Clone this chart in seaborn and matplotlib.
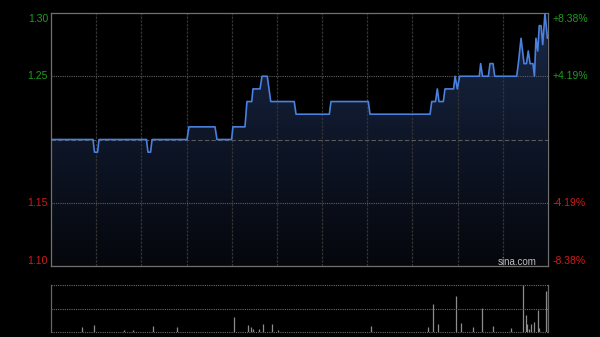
import numpy as np
import pandas as pd
import matplotlib
matplotlib.use("Agg")
import matplotlib.pyplot as plt
import seaborn as sns
from matplotlib.colors import LinearSegmentedColormap

# ---- data (minutes since 09:30, HK session: 330 trading minutes) ----
minutes = [0, 27.9, 28.9, 30.9, 31.9, 63.4, 64.4, 66.1, 67.1, 90.3, 91.6,
           108.9, 110.2, 119.9, 120.8, 128.8, 130.1, 133.3, 134.1, 138.8, 140.1,
           143.6, 145.9, 161.5, 162.7, 184.8, 185.9, 210.7, 211.8, 251.7, 252.8,
           255.3, 256.5, 257.6, 260.5, 261.6, 267.3, 268.3, 269.8, 271.3, 284.4,
           285.3, 286.5, 290.4, 291.5, 293.5, 294.6, 309.2, 310.3, 312.1, 314.1,
           315.7, 316.9, 318.1, 320.0, 321.0, 322.0, 323.2, 324.2, 325.4, 326.5,
           328.0, 329.6]
prices = [1.20, 1.20, 1.19, 1.19, 1.20, 1.20, 1.19, 1.19, 1.20, 1.20, 1.21,
          1.21, 1.20, 1.20, 1.21, 1.21, 1.23, 1.23, 1.24, 1.24, 1.25,
          1.25, 1.23, 1.23, 1.22, 1.22, 1.23, 1.23, 1.22, 1.22, 1.23,
          1.23, 1.24, 1.23, 1.23, 1.24, 1.24, 1.25, 1.24, 1.25, 1.25,
          1.26, 1.25, 1.25, 1.26, 1.26, 1.25, 1.25, 1.26, 1.28, 1.26,
          1.26, 1.27, 1.26, 1.26, 1.25, 1.28, 1.27, 1.29, 1.29, 1.275,
          1.30, 1.28]

vol_minutes = [20.4, 28.8, 48.5, 54.6, 67.9, 83.5, 121.5, 131.0, 132.8, 134.3,
               138.3, 140.6, 146.5, 150.9, 212.3, 250.1, 253.4, 257.2, 268.7,
               272.0, 280.0, 286.0, 293.3, 305.2, 313.2, 315.2, 315.9, 317.6,
               318.7, 320.7, 323.6, 324.2, 329.0, 330.0]
volumes = [10, 14, 4, 4, 12, 10, 32, 14, 10, 6,
           7, 16, 18, 4, 13, 10, 60, 16, 76,
           20, 11, 51, 12, 9, 100, 37, 18, 6,
           16, 21, 46, 9, 88, 88]

prev_close = 1.20
left_ticks = [1.30, 1.25, 1.15, 1.10]
left_labels = ["1.30", "1.25", "1.15", "1.10"]
right_labels = ["+8.38%", "+4.19%", "-4.19%", "-8.38%"]
up_color = "#1c9e1c"
down_color = "#d01c1c"

sns.set_theme(style="dark")
plt.rcParams['font.family'] = ['Liberation Sans', 'DejaVu Sans']

fig = plt.figure(figsize=(6, 3.37), dpi=100, facecolor='black')
ax = fig.add_axes([51/600, 1-266/337, 497/600, 253/337])
axv = fig.add_axes([51/600, 1-332/337, 497/600, 47/337])
for a in (ax, axv):
    a.set_facecolor('black')
    a.grid(False)
    a.set_xticks([])
    a.set_yticks([])
    a.set_xlabel('')
    a.set_ylabel('')

df = pd.DataFrame({'minute': minutes, 'price': prices})

# gradient area under the line
poly = ax.fill_between(df['minute'], df['price'], 1.10, color='none', lw=0)
grad = np.linspace(0, 1, 256).reshape(-1, 1)
cmap = LinearSegmentedColormap.from_list('g', ['#05070c', '#0e1628', '#1a2948'])
im = ax.imshow(grad, extent=(0, 330, 1.10, 1.30), aspect='auto', cmap=cmap,
               origin='lower', zorder=1)
im.set_clip_path(poly.get_paths()[0], transform=ax.transData)

# grid
for m in range(30, 330, 30):
    ax.axvline(m, color='#333333', lw=0.9, ls=(0, (2, 1)), zorder=2)
for yv in (1.25, 1.15):
    ax.axhline(yv, color='#5e5e5e', lw=0.8, ls=(0, (1, 1)), zorder=2)
ax.axhline(prev_close, color='#5a5a5a', lw=0.8, ls=(0, (4, 2)), zorder=2)

sns.lineplot(data=df, x='minute', y='price', ax=ax, color='#4a80de',
             linewidth=1.2, estimator=None, zorder=3)
ax.set_xlabel('')
ax.set_ylabel('')
ax.set_xlim(0, 330)
ax.set_ylim(1.10, 1.30)
ax.set_xticks([])
ax.set_yticks([])

for s in ax.spines.values():
    s.set_color('#707070')
    s.set_linewidth(0.9)
    s.set_visible(True)

vas = ['top', 'center', 'center', 'bottom']
for yv, ll, rl, va in zip(left_ticks, left_labels, right_labels, vas):
    col = up_color if yv > prev_close else down_color
    off = {'top': -0.5, 'center': 0, 'bottom': 0.5}[va]
    ax.annotate(ll, xy=(0, yv), xycoords=('axes fraction', 'data'),
                xytext=(-3, off), textcoords='offset pixels',
                ha='right', va=va, color=col, fontsize=7.5)
    ax.annotate(rl, xy=(1, yv), xycoords=('axes fraction', 'data'),
                xytext=(5, off), textcoords='offset pixels',
                ha='left', va=va, color=col, fontsize=7.5)

ax.text(0.978, 0.017, 'sina.com', transform=ax.transAxes, ha='right',
        va='center', color='#bdbdbd', fontsize=7, zorder=5)

# volume panel
axv.vlines(vol_minutes, 0, volumes, color='#8c8c8c', lw=0.9)
axv.set_xlim(0, 330)
axv.set_ylim(0, 100)
for yv in (0, 50, 100):
    axv.axhline(yv, color='#6a6a6a', lw=0.8, ls=(0, (1, 1)), clip_on=False)
for side in ('top', 'bottom'):
    axv.spines[side].set_visible(False)
for side in ('left', 'right'):
    axv.spines[side].set_color('#666666')
    axv.spines[side].set_linewidth(0.9)
    axv.spines[side].set_visible(True)

fig.savefig('out.png', dpi=100, facecolor='black')
